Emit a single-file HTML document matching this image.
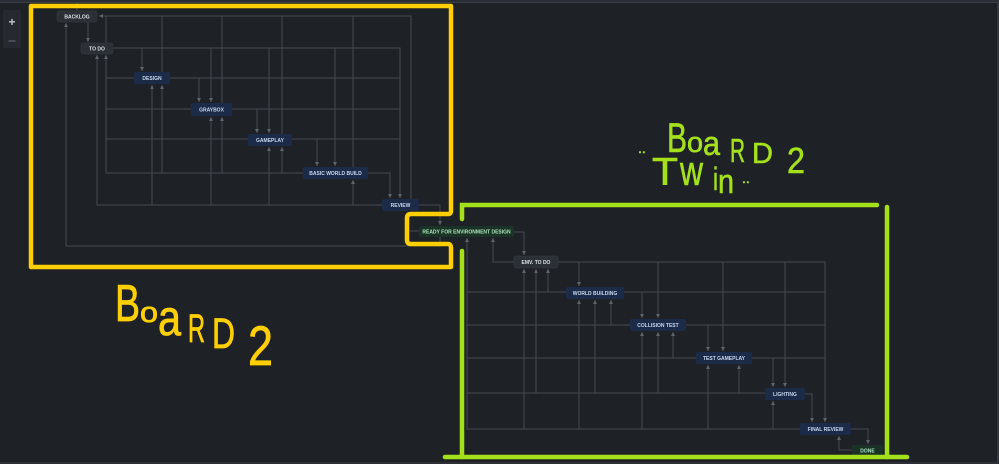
<!DOCTYPE html>
<html><head><meta charset="utf-8"><style>
html,body{margin:0;padding:0;background:#1e2125;}
svg{display:block;}
.n{font-family:"Liberation Sans",sans-serif;font-size:5px;font-weight:bold;text-anchor:middle;}
.hw{font-family:"Liberation Sans",sans-serif;}
</style></head><body>
<svg width="999" height="464" viewBox="0 0 999 464" xmlns="http://www.w3.org/2000/svg">
<defs>
<marker id="a" viewBox="0 0 6 6" refX="6" refY="3" markerWidth="4" markerHeight="4" orient="auto" markerUnits="userSpaceOnUse">
<path d="M0,0 L6,3 L0,6 z" fill="#5e646d"/>
</marker>
</defs>
<rect x="0" y="0" width="999" height="464" fill="#1e2125"/>
<rect x="0" y="0" width="999" height="2" fill="#2a2d33"/>
<rect x="0" y="2" width="999" height="1" fill="#3a3e45"/>
<rect x="997" y="0" width="2" height="464" fill="#34383e"/>
<rect x="0" y="462" width="999" height="2" fill="#2c2f35"/>
<!-- zoom panel -->
<rect x="3" y="10" width="18" height="38" rx="2" fill="#262a30"/>
<text x="12" y="26" font-family="Liberation Sans,sans-serif" font-size="12" font-weight="bold" fill="#c4c8ce" text-anchor="middle">+</text>
<rect x="8.5" y="40.5" width="7" height="1" fill="#6a6f77"/>

<g fill="none" stroke="#454a52" stroke-width="1">
<!-- left board -->
<path d="M411,199 V16 H99" marker-end="url(#a)"/>
<path d="M106,43 V16"/><path d="M162,72 V16"/><path d="M222,103 V16"/><path d="M282,134 V16"/><path d="M353,167 V16"/>
<path d="M88,22 V42" marker-end="url(#a)"/>
<path d="M77,3 V11"/>
<path d="M113,48 H400 V198" marker-end="url(#a)"/>
<path d="M142,48 V71" marker-end="url(#a)"/>
<path d="M211,48 V102" marker-end="url(#a)"/>
<path d="M269,48 V133" marker-end="url(#a)"/>
<path d="M335,48 V166" marker-end="url(#a)"/>
<path d="M170,78 H400"/>
<path d="M199,78 V102" marker-end="url(#a)"/>
<path d="M232,109 H400"/>
<path d="M257,109 V133" marker-end="url(#a)"/>
<path d="M292,139 H400"/>
<path d="M317,139 V166" marker-end="url(#a)"/>
<path d="M368,173 H390 V198" marker-end="url(#a)"/>
<path d="M134,78 H106"/><path d="M191,109 H106"/><path d="M248,139 H106"/>
<path d="M303,173 H106 V55" marker-end="url(#a)"/>
<path d="M382,205 H97 V55" marker-end="url(#a)"/>
<path d="M152,205 V85" marker-end="url(#a)"/>
<path d="M211,205 V117" marker-end="url(#a)"/>
<path d="M269,205 V147" marker-end="url(#a)"/>
<path d="M353,205 V180" marker-end="url(#a)"/>
<path d="M162,173 V85" marker-end="url(#a)"/>
<path d="M222,173 V117" marker-end="url(#a)"/>
<path d="M282,173 V147" marker-end="url(#a)"/>
<path d="M419,205 H440 V225" marker-end="url(#a)"/>
<path d="M440,237 V246 H66 V23" marker-end="url(#a)"/>
<path d="M419,231 H410"/>
<!-- right board -->
<path d="M514,232 H524 V255" marker-end="url(#a)"/>
<path d="M514,262 H493 V238" marker-end="url(#a)"/>
<path d="M800,429 H467 V238" marker-end="url(#a)"/>
<path d="M558,262 H825 V422" marker-end="url(#a)"/>
<path d="M579,262 V286" marker-end="url(#a)"/>
<path d="M658,262 V318" marker-end="url(#a)"/>
<path d="M723,262 V351" marker-end="url(#a)"/>
<path d="M785,262 V387" marker-end="url(#a)"/>
<path d="M524,429 V269" marker-end="url(#a)"/>
<path d="M536,393 V269" marker-end="url(#a)"/>
<path d="M548,292 V269" marker-end="url(#a)"/>
<path d="M566,292 H467"/>
<path d="M624,292 H825"/>
<path d="M642,292 V318" marker-end="url(#a)"/>
<path d="M579,429 V300" marker-end="url(#a)"/>
<path d="M595,393 V300" marker-end="url(#a)"/>
<path d="M611,325 V300" marker-end="url(#a)"/>
<path d="M630,325 H467"/>
<path d="M686,325 H825"/>
<path d="M708,325 V351" marker-end="url(#a)"/>
<path d="M642,429 V332" marker-end="url(#a)"/>
<path d="M658,393 V332" marker-end="url(#a)"/>
<path d="M673,358 V332" marker-end="url(#a)"/>
<path d="M696,358 H467"/>
<path d="M752,358 H825"/>
<path d="M773,358 V387" marker-end="url(#a)"/>
<path d="M708,429 V365" marker-end="url(#a)"/>
<path d="M739,393 V365" marker-end="url(#a)"/>
<path d="M765,393 H467"/>
<path d="M805,394 H812 V422" marker-end="url(#a)"/>
<path d="M773,429 V401" marker-end="url(#a)"/>
<path d="M851,429 H868 V444" marker-end="url(#a)"/>
<path d="M852,450 H839 V436" marker-end="url(#a)"/>
</g>

<!-- nodes -->
<g>
<rect x="57" y="11" width="40" height="11" rx="2" fill="#2b2f36" stroke="#363b42" stroke-width="0.6"/>
<text class="n" x="77" y="18.5" fill="#dde0e5">BACKLOG</text>
<rect x="81" y="43" width="32" height="11" rx="2" fill="#2b2f36" stroke="#363b42" stroke-width="0.6"/>
<text class="n" x="97" y="50.5" fill="#dde0e5">TO DO</text>
<rect x="134" y="72" width="36" height="12" rx="2" fill="#1c2b47"/>
<text class="n" x="152" y="79.8" fill="#c9d6ee">DESIGN</text>
<rect x="191" y="103" width="41" height="13" rx="2" fill="#1c2b47"/>
<text class="n" x="211.5" y="111.3" fill="#c9d6ee">GRAYBOX</text>
<rect x="248" y="134" width="44" height="12" rx="2" fill="#1c2b47"/>
<text class="n" x="270" y="141.8" fill="#c9d6ee">GAMEPLAY</text>
<rect x="303" y="167" width="65" height="12" rx="2" fill="#1c2b47"/>
<text class="n" x="335.5" y="174.8" fill="#c9d6ee">BASIC WORLD BUILD</text>
<rect x="382" y="199" width="37" height="12" rx="2" fill="#1c2b47"/>
<text class="n" x="400.5" y="206.8" fill="#c9d6ee">REVIEW</text>
<rect x="419" y="226" width="95" height="11" rx="2" fill="#1b3327"/>
<text class="n" x="466.5" y="233.3" fill="#a9e6bd">READY FOR ENVIRONMENT DESIGN</text>
<rect x="514" y="256" width="44" height="12" rx="2" fill="#2b2f36" stroke="#363b42" stroke-width="0.6"/>
<text class="n" x="536" y="263.8" fill="#dde0e5">EMV. TO DO</text>
<rect x="566" y="287" width="58" height="12" rx="2" fill="#1c2b47"/>
<text class="n" x="595" y="294.8" fill="#c9d6ee">WORLD BUILDING</text>
<rect x="630" y="319" width="56" height="12" rx="2" fill="#1c2b47"/>
<text class="n" x="658" y="326.8" fill="#c9d6ee">COLLISION TEST</text>
<rect x="696" y="352" width="56" height="12" rx="2" fill="#1c2b47"/>
<text class="n" x="724" y="359.8" fill="#c9d6ee">TEST GAMEPLAY</text>
<rect x="765" y="388" width="40" height="12" rx="2" fill="#1c2b47"/>
<text class="n" x="785" y="395.8" fill="#c9d6ee">LIGHTING</text>
<rect x="800" y="423" width="51" height="12" rx="2" fill="#1c2b47"/>
<text class="n" x="825.5" y="430.8" fill="#c9d6ee">FINAL REVIEW</text>
<rect x="852" y="445" width="31" height="11" rx="2" fill="#1b3327"/>
<text class="n" x="867.5" y="452.3" fill="#a9e6bd">DONE</text>
</g>

<!-- yellow outline -->
<path d="M31,6 H451 V211 Q451,214 448,214 H411 Q407,214 407,218 V240 Q407,244 411,244 H448 Q451,244 451,248 V267 H31 Z" fill="none" stroke="#ffcf00" stroke-width="4.5" stroke-linejoin="round"/>

<!-- green outline -->
<g stroke="#a4e11b" stroke-width="4.5" stroke-linecap="round" fill="none">
<path d="M462,219 V205 H877"/>
<path d="M887,207 V457"/>
<path d="M462,251 V457"/>
<path d="M445,457 H907"/>
</g>

<!-- handwriting yellow -->
<g class="hw" fill="#ffcf00" stroke="#ffcf00" stroke-width="0.8">
<text x="115" y="321" font-size="52" textLength="25" lengthAdjust="spacingAndGlyphs">B</text>
<text x="140" y="322" font-size="29" textLength="18" lengthAdjust="spacingAndGlyphs">o</text>
<text x="158" y="335" font-size="50" textLength="23" lengthAdjust="spacingAndGlyphs">a</text>
<text x="188" y="342" font-size="40" textLength="17" lengthAdjust="spacingAndGlyphs">R</text>
<text x="212" y="348" font-size="43" textLength="23" lengthAdjust="spacingAndGlyphs">D</text>
<text x="248" y="365" font-size="56" textLength="25" lengthAdjust="spacingAndGlyphs">2</text>
</g>

<!-- handwriting green -->
<g class="hw" fill="#a4e11b" stroke="#a4e11b" stroke-width="0.6">
<text x="667" y="152" font-size="42" textLength="20" lengthAdjust="spacingAndGlyphs">B</text>
<text x="687" y="152" font-size="29" textLength="16" lengthAdjust="spacingAndGlyphs">o</text>
<text x="703" y="155" font-size="34" textLength="17" lengthAdjust="spacingAndGlyphs">a</text>
<text x="730" y="162" font-size="33" textLength="15" lengthAdjust="spacingAndGlyphs">R</text>
<text x="752" y="163" font-size="29" textLength="21" lengthAdjust="spacingAndGlyphs">D</text>
<text x="787" y="173" font-size="36" textLength="18" lengthAdjust="spacingAndGlyphs">2</text>
<text x="638" y="153" font-size="14">..</text>
<text x="652" y="185" font-size="39" textLength="26" lengthAdjust="spacingAndGlyphs">T</text>
<text x="680" y="185" font-size="42" textLength="23" lengthAdjust="spacingAndGlyphs">w</text>
<text x="713" y="190" font-size="32" textLength="5" lengthAdjust="spacingAndGlyphs">i</text>
<text x="718" y="193" font-size="34" textLength="16" lengthAdjust="spacingAndGlyphs">n</text>
<text x="742" y="183" font-size="14">..</text>
</g>
</svg>
</body></html>
